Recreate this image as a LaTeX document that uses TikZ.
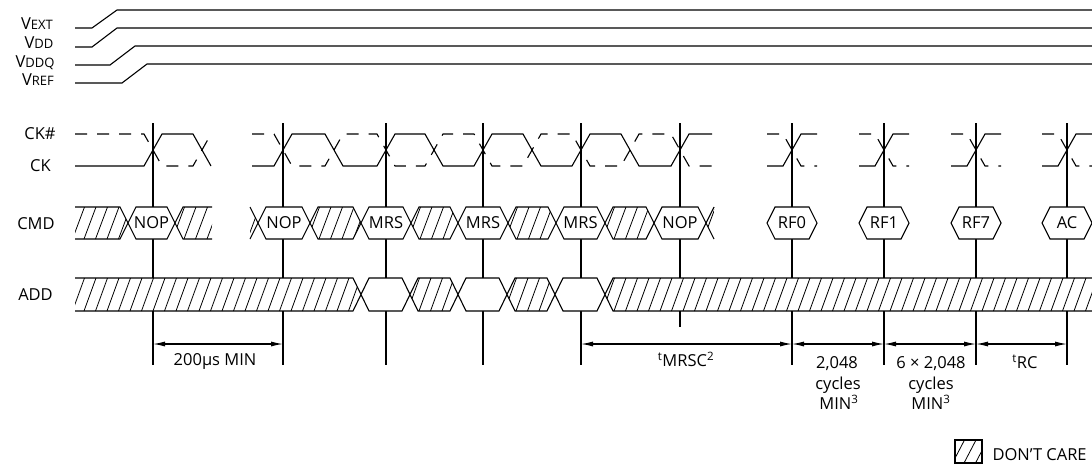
\documentclass[tikz,border=0pt]{standalone}
\usepackage{fontspec}
\setmainfont{Open Sans}
\usetikzlibrary{arrows.meta}
\newcommand\lowcaps[1]{{\fontsize{13}{15}\selectfont #1}}
\newcommand\hatchlines[4]{%
  \pgfmathtruncatemacro\hn{((#2)-(#1))/11.5+3}%
  \foreach \i in {0,...,\hn}{%
    \pgfmathsetmacro\hx{#1-14+11.5*\i}%
    \draw[hatchline] (\hx,#4) -- (\hx+12,#3);}}
\newcommand\hmid[4]{%
  \pgfmathsetmacro\ym{(#3+#4)/2}%
  \begin{scope}
    \clip (#1,\ym) -- (#1+8,#3) -- (#2-8,#3) -- (#2,\ym) -- (#2-8,#4) -- (#1+8,#4) -- cycle;
    \fill[white] (#1,#3) rectangle (#2,#4);
    \hatchlines{#1}{#2}{#3}{#4}
  \end{scope}
  \draw (#1,\ym) -- (#1+8,#3) -- (#2-8,#3) -- (#2,\ym) -- (#2-8,#4) -- (#1+8,#4) -- cycle;}
\newcommand\hopenL[4]{%
  \pgfmathsetmacro\ym{(#3+#4)/2}%
  \begin{scope}
    \clip (#1,#3) -- (#2-8,#3) -- (#2,\ym) -- (#2-8,#4) -- (#1,#4) -- cycle;
    \fill[white] (#1,#3) rectangle (#2,#4);
    \hatchlines{#1}{#2}{#3}{#4}
  \end{scope}
  \draw (#1,#3) -- (#2-8,#3) -- (#2,\ym) -- (#2-8,#4) -- (#1,#4);}
\newcommand\hopenR[4]{%
  \pgfmathsetmacro\ym{(#3+#4)/2}%
  \begin{scope}
    \clip (#2,#3) -- (#1+8,#3) -- (#1,\ym) -- (#1+8,#4) -- (#2,#4) -- cycle;
    \fill[white] (#1,#3) rectangle (#2,#4);
    \hatchlines{#1}{#2}{#3}{#4}
  \end{scope}
  \draw (#2,#3) -- (#1+8,#3) -- (#1,\ym) -- (#1+8,#4) -- (#2,#4);}
\newcommand\vhex[4]{%
  \pgfmathsetmacro\ym{(#3+#4)/2}%
  \draw[fill=white] (#1,\ym) -- (#1+8,#3) -- (#2-8,#3) -- (#2,\ym) -- (#2-8,#4) -- (#1+8,#4) -- cycle;}
\newcommand\vcmd[4]{%
  \vhex{#1}{#2}{207}{239}
  \node[txt] (#3) at ({(#1+#2)/2},228.8) {#4};}
\begin{document}
\begin{tikzpicture}[x=1pt,y=-1pt,line width=1.1pt,line join=miter,
  hatchline/.style={line width=0.8pt},
  txt/.style={font=\fontsize{16.5}{19}\selectfont,inner sep=0pt,anchor=base},
  ckn/.style={dash pattern=on 12pt off 10pt},
  dim/.style={{Latex[length=12pt,width=5pt]}-{Latex[length=12pt,width=5pt]}}]
\useasboundingbox[fill=white] (0,0) rectangle (1092,466);

% power rails
\draw (75,28) -- (92,28) -- (117,10) -- (1100,10);
\draw (75,47) -- (92,47) -- (117,28) -- (1100,28);
\draw (75,65) -- (110,65) -- (135,46) -- (1100,46);
\draw (75,83) -- (122,83) -- (147,64) -- (1100,64);
\node[txt] (vext) at (37,29.8) {V\lowcaps{EXT}};
\node[txt] (vdd) at (39,48.8) {V\lowcaps{DD}};
\node[txt] (vddq) at (35,67.8) {V\lowcaps{DDQ}};
\node[txt] (vref) at (38,85.8) {V\lowcaps{REF}};

% signal labels
\node[txt] (ckn) at (40,139.8) {CK\#};
\node[txt] (ck) at (40.5,171.8) {CK};
\node[txt] (cmd) at (36,229.8) {CMD};
\node[txt] (add) at (35.5,300.3) {ADD};

% reference lines
\foreach \r in {153,283,386,483,581,792,884,976,1067}{
  \coordinate (top\r) at (\r,123);
  \coordinate (bot\r) at (\r,365);
  \coordinate (a\r) at (\r,344);
  \draw (top\r) -- (bot\r);}
\coordinate (top680) at (680,123);
\coordinate (bot680) at (680,327);
\draw (top680) -- (bot680);

% clocks
\foreach \lo/\hi/\sty in {166/134/solid,134/166/ckn}{
  \draw[\sty] (75,\lo) -- (144,\lo) -- (162,\hi) -- (193,\hi) -- (211,\lo);
  \draw[\sty] (252,\lo) -- (274,\lo) -- (292,\hi) -- (325,\hi) -- (343,\lo)
    -- (377,\lo) -- (395,\hi) -- (425,\hi) -- (443,\lo) -- (474,\lo) -- (492,\hi)
    -- (523,\hi) -- (541,\lo) -- (572,\lo) -- (590,\hi) -- (621,\hi) -- (639,\lo)
    -- (671,\lo) -- (689,\hi) -- (712,\hi);
  \foreach \r in {792,884,976,1067}{
    \draw[\sty] (\r-25,\lo) -- (\r-9,\lo) -- (\r+9,\hi) -- (\r+25,\hi);}
}

% CMD bus
\hopenL{75}{128}{207}{239}
\vcmd{128}{175}{nop1}{NOP}
\hopenR{175}{212}{207}{239}
\hopenL{250}{258}{207}{239}
\vcmd{258}{310}{nop2}{NOP}
\hmid{310}{361}{207}{239}
\vcmd{361}{411}{mrs1}{MRS}
\hmid{411}{458}{207}{239}
\vcmd{458}{508}{mrs2}{MRS}
\hmid{508}{556}{207}{239}
\vcmd{556}{605}{mrs3}{MRS}
\hmid{605}{654}{207}{239}
\vcmd{654}{706}{nop3}{NOP}
\hopenR{706}{714}{207}{239}
\vcmd{767}{817}{rf0}{RF0}
\vcmd{859}{909}{rf1}{RF1}
\vcmd{951}{1001}{rf7}{RF7}
\vcmd{1042}{1092}{ac}{AC}

% ADD bus
\hopenL{75}{361}{278}{311}
\vhex{361}{410}{278}{311}
\hmid{410}{458}{278}{311}
\vhex{458}{507}{278}{311}
\hmid{507}{555}{278}{311}
\vhex{555}{605}{278}{311}
\hopenR{605}{1100}{278}{311}

% dimensions
\draw[dim] (a153) -- (a283);
\draw[dim] (a581) -- (a792);
\draw[dim] (a792) -- (a884);
\draw[dim] (a884) -- (a976);
\draw[dim] (a976) -- (a1067);
\node[txt] (t200) at (215,365.8) {200μs MIN};
\node[txt] (tmrsc) at (686,366.8) {\textsuperscript{t}MRSC\textsuperscript{2}};
\node[txt] (c1a) at (837,368.8) {2,048};
\node[txt] (c1b) at (838,389.8) {cycles};
\node[txt] (c1c) at (839,409.8) {MIN\textsuperscript{3}};
\node[txt] (c2a) at (931,368.8) {6 × 2,048};
\node[txt] (c2b) at (931,389.8) {cycles};
\node[txt] (c2c) at (931,409.8) {MIN\textsuperscript{3}};
\node[txt] (trc) at (1025,368.8) {\textsuperscript{t}RC};

% legend
\begin{scope}
  \clip (955,440) rectangle (982,463);
  \hatchlines{955}{982}{440}{463}
\end{scope}
\draw (955,440) rectangle (982,463);
\node[txt,anchor=base west] (dc) at (992,460.8) {DON’T CARE};
\end{tikzpicture}
\end{document}
